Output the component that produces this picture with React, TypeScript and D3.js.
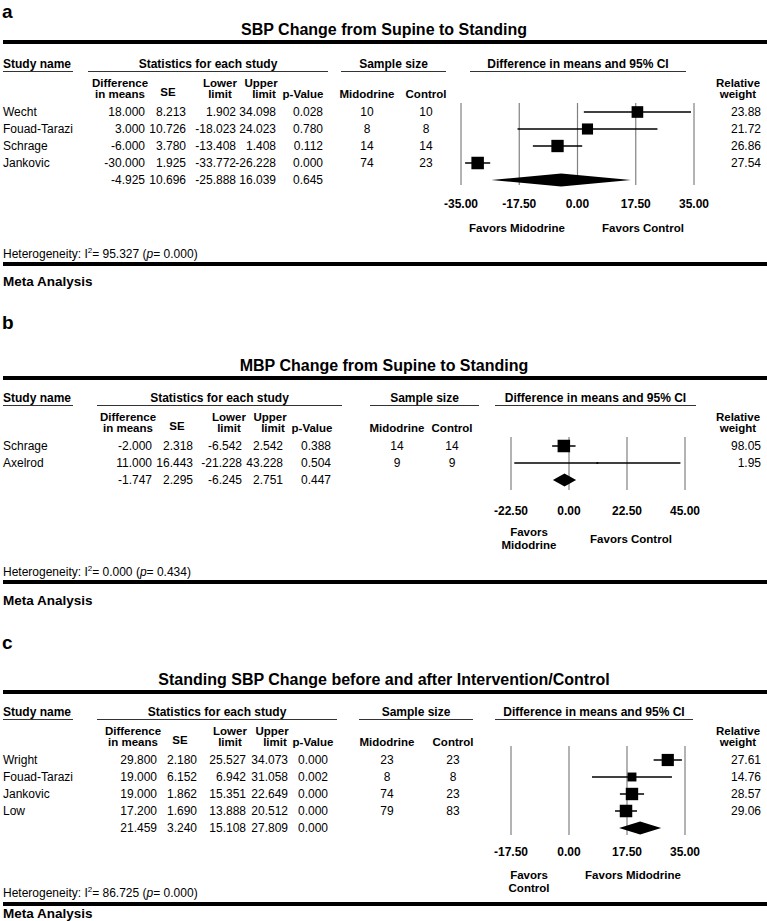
import React from 'react';
import * as d3 from 'd3';

// ---- panel a: SBP change from supine to standing
const aStudies = ['Wecht', 'Fouad-Tarazi', 'Schrage', 'Jankovic'];
const aDiff = [18.0, 3.0, -6.0, -30.0];
const aSE = [8.213, 10.726, 3.78, 1.925];
const aLower = [1.902, -18.023, -13.408, -33.772];
const aUpper = [34.098, 24.023, 1.408, -26.228];
const aP = [0.028, 0.78, 0.112, 0.0];
const aMidodrine = [10, 8, 14, 74];
const aControl = [10, 8, 14, 23];
const aWeight = [23.88, 21.72, 26.86, 27.54];
const aSummary = [-4.925, 10.696, -25.888, 16.039, 0.645];
const aTicks = [-35, -17.5, 0, 17.5, 35];
const aHet = [95.327, 0.0];

// ---- panel b: MBP change from supine to standing
const bStudies = ['Schrage', 'Axelrod'];
const bDiff = [-2.0, 11.0];
const bSE = [2.318, 16.443];
const bLower = [-6.542, -21.228];
const bUpper = [2.542, 43.228];
const bP = [0.388, 0.504];
const bMidodrine = [14, 9];
const bControl = [14, 9];
const bWeight = [98.05, 1.95];
const bSummary = [-1.747, 2.295, -6.245, 2.751, 0.447];
const bTicks = [-22.5, 0, 22.5, 45];
const bHet = [0.0, 0.434];

// ---- panel c: standing SBP change before and after intervention/control
const cStudies = ['Wright', 'Fouad-Tarazi', 'Jankovic', 'Low'];
const cDiff = [29.8, 19.0, 19.0, 17.2];
const cSE = [2.18, 6.152, 1.862, 1.69];
const cLower = [25.527, 6.942, 15.351, 13.888];
const cUpper = [34.073, 31.058, 22.649, 20.512];
const cP = [0.0, 0.002, 0.0, 0.0];
const cMidodrine = [23, 8, 74, 79];
const cControl = [23, 8, 23, 83];
const cWeight = [27.61, 14.76, 28.57, 29.06];
const cSummary = [21.459, 3.24, 15.108, 27.809, 0.0];
const cTicks = [-17.5, 0, 17.5, 35];
const cHet = [86.725, 0.0];

const FONT = '"Liberation Sans", Arial, sans-serif';
// plain hyphen for negatives, like the source table
const loc = d3.formatLocale({ decimal: '.', thousands: ',', grouping: [3], currency: ['', ''], minus: '-' });
const f3 = loc.format('.3f');
const f2 = loc.format('.2f');

type PanelProps = {
  label: string;
  title: string;
  studies: string[];
  diff: number[];
  se: number[];
  lower: number[];
  upper: number[];
  p: number[];
  mid: number[];
  ctrl: number[];
  weight: number[];
  summary: number[];
  ticks: number[];
  het: number[];
  favors: { text: string[]; x: number }[];
  L: number; // y of the thick rule under the title
  lay: any;
};

const Panel: React.FC<PanelProps> = (props) => {
  const { L, lay } = props;
  const x = d3.scaleLinear().domain(d3.extent(props.ticks) as [number, number]).range(lay.xr);
  const rowY = (i: number) => L + lay.row0 + i * 17;
  const maxW = d3.max(props.weight) || 1;
  const side = (w: number) => Math.max(1.5, 12.5 * Math.sqrt(w / maxW));
  const vr = lay.val; // right edges of the five stats columns
  const n = props.studies.length;
  const sumY = rowY(n);
  const uy = L + lay.hdr + 3.5;

  const cells = (vals: number[], y: number, key: string) =>
    vals.map((v, j) => (
      <text key={key + j} x={vr[j]} y={y} textAnchor="end">
        {f3(v)}
      </text>
    ));

  return (
    <g fontFamily={FONT} fontSize={12} fill="#000">
      <text x={2} y={L + lay.labelY} fontSize={19} fontWeight="bold">
        {props.label}
      </text>
      <text x={384} y={L - 7} fontSize={16} fontWeight="bold" textAnchor="middle">
        {props.title}
      </text>
      <line x1={3} x2={767} y1={L} y2={L} stroke="#000" strokeWidth={4} />

      {/* group headers */}
      <g fontWeight="bold">
        <text x={3} y={L + lay.hdr}>Study name</text>
        <text x={(lay.stats[0] + lay.stats[1]) / 2} y={L + lay.hdr} textAnchor="middle">
          Statistics for each study
        </text>
        <text x={(lay.sample[0] + lay.sample[1]) / 2} y={L + lay.hdr} textAnchor="middle">
          Sample size
        </text>
        <text x={(lay.ci[0] + lay.ci[1]) / 2} y={L + lay.hdr} textAnchor="middle">
          Difference in means and 95% CI
        </text>
      </g>
      <g stroke="#333" strokeWidth={1}>
        <line x1={3} x2={73} y1={uy} y2={uy} />
        <line x1={lay.stats[0]} x2={lay.stats[1]} y1={uy} y2={uy} />
        <line x1={lay.sample[0]} x2={lay.sample[1]} y1={uy} y2={uy} />
        <line x1={lay.ci[0]} x2={lay.ci[1]} y1={uy} y2={uy} />
      </g>

      {/* column headers, two tight lines */}
      <g fontWeight="bold" textAnchor="middle" fontSize={11.5}>
        <text x={lay.h[0]} y={L + lay.sub}>Difference</text>
        <text x={lay.h[0]} y={L + lay.sub + 10.5}>in means</text>
        <text x={lay.h[1]} y={L + lay.sub + 8.5}>SE</text>
        <text x={lay.h[2]} y={L + lay.sub}>Lower</text>
        <text x={lay.h[2]} y={L + lay.sub + 10.5}>limit</text>
        <text x={lay.h[3]} y={L + lay.sub}>Upper</text>
        <text x={lay.h[3] + 3} y={L + lay.sub + 10.5}>limit</text>
        <text x={lay.h[4]} y={L + lay.sub + 10.5}>p-Value</text>
        <text x={lay.mid} y={L + lay.sub + 10.5}>Midodrine</text>
        <text x={lay.ctrl} y={L + lay.sub + 10.5}>Control</text>
        <text x={738} y={L + lay.sub}>Relative</text>
        <text x={738} y={L + lay.sub + 10.5}>weight</text>
      </g>

      {/* study rows */}
      {props.studies.map((s, i) => {
        const y = rowY(i);
        return (
          <g key={s}>
            <text x={3} y={y}>{s}</text>
            {cells([props.diff[i], props.se[i], props.lower[i], props.upper[i], props.p[i]], y, s)}
            <text x={lay.mid} y={y} textAnchor="middle">{props.mid[i]}</text>
            <text x={lay.ctrl} y={y} textAnchor="middle">{props.ctrl[i]}</text>
            <text x={761} y={y} textAnchor="end">{f2(props.weight[i])}</text>
          </g>
        );
      })}
      {cells(props.summary, sumY, 'sum')}

      {/* forest plot */}
      <g stroke="#808080" strokeWidth={1.2}>
        {props.ticks.map((t) => (
          <line key={t} x1={x(t)} x2={x(t)} y1={L + lay.vTop} y2={L + lay.vBot} />
        ))}
      </g>
      {props.studies.map((s, i) => {
        const cy = rowY(i) - 4;
        const a = side(props.weight[i]);
        return (
          <g key={'f' + s}>
            <line x1={x(props.lower[i])} x2={x(props.upper[i])} y1={cy} y2={cy} stroke="#000" strokeWidth={1.5} />
            <rect x={x(props.diff[i]) - a / 2} y={cy - a / 2} width={a} height={a} fill="#000" />
          </g>
        );
      })}
      <path
        d={`M${x(props.summary[2])},${sumY - 4}L${x(props.summary[0])},${sumY - 10.5}L${x(props.summary[3])},${sumY - 4}L${x(props.summary[0])},${sumY + 2.5}Z`}
        fill="#000"
      />
      <g fontWeight="bold" textAnchor="middle">
        {props.ticks.map((t) => (
          <text key={'t' + t} x={x(t)} y={L + lay.tick}>{f2(t)}</text>
        ))}
      </g>
      <g fontWeight="bold" fontSize={11.5} textAnchor="middle">
        {props.favors.map((fv, k) =>
          fv.text.map((line, j) => (
            <text key={'fv' + k + j} x={fv.x} y={L + (fv.text.length > 1 ? lay.fav2[j] : lay.fav1)}>
              {line}
            </text>
          )),
        )}
      </g>

      <text x={3} y={L + lay.het}>
        Heterogeneity:  I
        <tspan fontSize={8} dy={-5}>2</tspan>
        <tspan dy={5}>= {f3(props.het[0])} (</tspan>
        <tspan fontStyle="italic">p</tspan>
        <tspan>= {f3(props.het[1])})</tspan>
      </text>
      <line x1={3} x2={767} y1={L + lay.bot} y2={L + lay.bot} stroke="#000" strokeWidth={4} />
      <text x={3} y={L + lay.meta} fontSize={13.5} fontWeight="bold">Meta Analysis</text>
    </g>
  );
};

const layA = {
  labelY: -24, hdr: 26, sub: 45, row0: 74, vTop: 61, vBot: 143, tick: 166,
  fav1: 190, fav2: [0, 0], het: 216, bot: 222, meta: 244,
  val: [145, 186, 236, 276, 323], h: [120, 168, 220, 261, 303], mid: 367, ctrl: 426,
  stats: [88, 328], sample: [341, 446], ci: [470, 686], xr: [461, 694],
};
const layB = {
  labelY: -49, hdr: 24, sub: 43, row0: 72, vTop: 59, vBot: 112, tick: 137,
  fav1: 165, fav2: [158, 171], het: 198, bot: 204, meta: 227,
  val: [152, 193, 242, 283, 331], h: [128, 177, 229, 270, 312], mid: 397, ctrl: 452,
  stats: [97, 342], sample: [370, 479], ci: [495, 696], xr: [511, 685],
};
const layC = {
  labelY: -43, hdr: 24, sub: 43, row0: 72, vTop: 54, vBot: 143, tick: 164,
  fav1: 187, fav2: [187, 200], het: 205, bot: 212, meta: 226,
  val: [157, 197, 246, 288, 328], h: [133, 180, 230, 272, 313], mid: 387, ctrl: 453,
  stats: [97, 337], sample: [359, 473], ci: [495, 693], xr: [511, 685],
};

export default function App() {
  return (
    <svg
      width={767}
      height={921}
      style={{ position: 'absolute', left: 0, top: 0, background: '#fff' }}
    >
      <rect width={767} height={921} fill="#fff" />
      <Panel
        label="a" title="SBP Change from Supine to Standing"
        studies={aStudies} diff={aDiff} se={aSE} lower={aLower} upper={aUpper} p={aP}
        mid={aMidodrine} ctrl={aControl} weight={aWeight} summary={aSummary}
        ticks={aTicks} het={aHet}
        favors={[{ text: ['Favors Midodrine'], x: 517 }, { text: ['Favors Control'], x: 643 }]}
        L={42} lay={layA}
      />
      <Panel
        label="b" title="MBP Change from Supine to Standing"
        studies={bStudies} diff={bDiff} se={bSE} lower={bLower} upper={bUpper} p={bP}
        mid={bMidodrine} ctrl={bControl} weight={bWeight} summary={bSummary}
        ticks={bTicks} het={bHet}
        favors={[{ text: ['Favors', 'Midodrine'], x: 529 }, { text: ['Favors Control'], x: 631 }]}
        L={378} lay={layB}
      />
      <Panel
        label="c" title="Standing SBP Change before and after Intervention/Control"
        studies={cStudies} diff={cDiff} se={cSE} lower={cLower} upper={cUpper} p={cP}
        mid={cMidodrine} ctrl={cControl} weight={cWeight} summary={cSummary}
        ticks={cTicks} het={cHet}
        favors={[{ text: ['Favors', 'Control'], x: 529 }, { text: ['Favors Midodrine'], x: 633 }]}
        L={692} lay={layC}
      />
    </svg>
  );
}
